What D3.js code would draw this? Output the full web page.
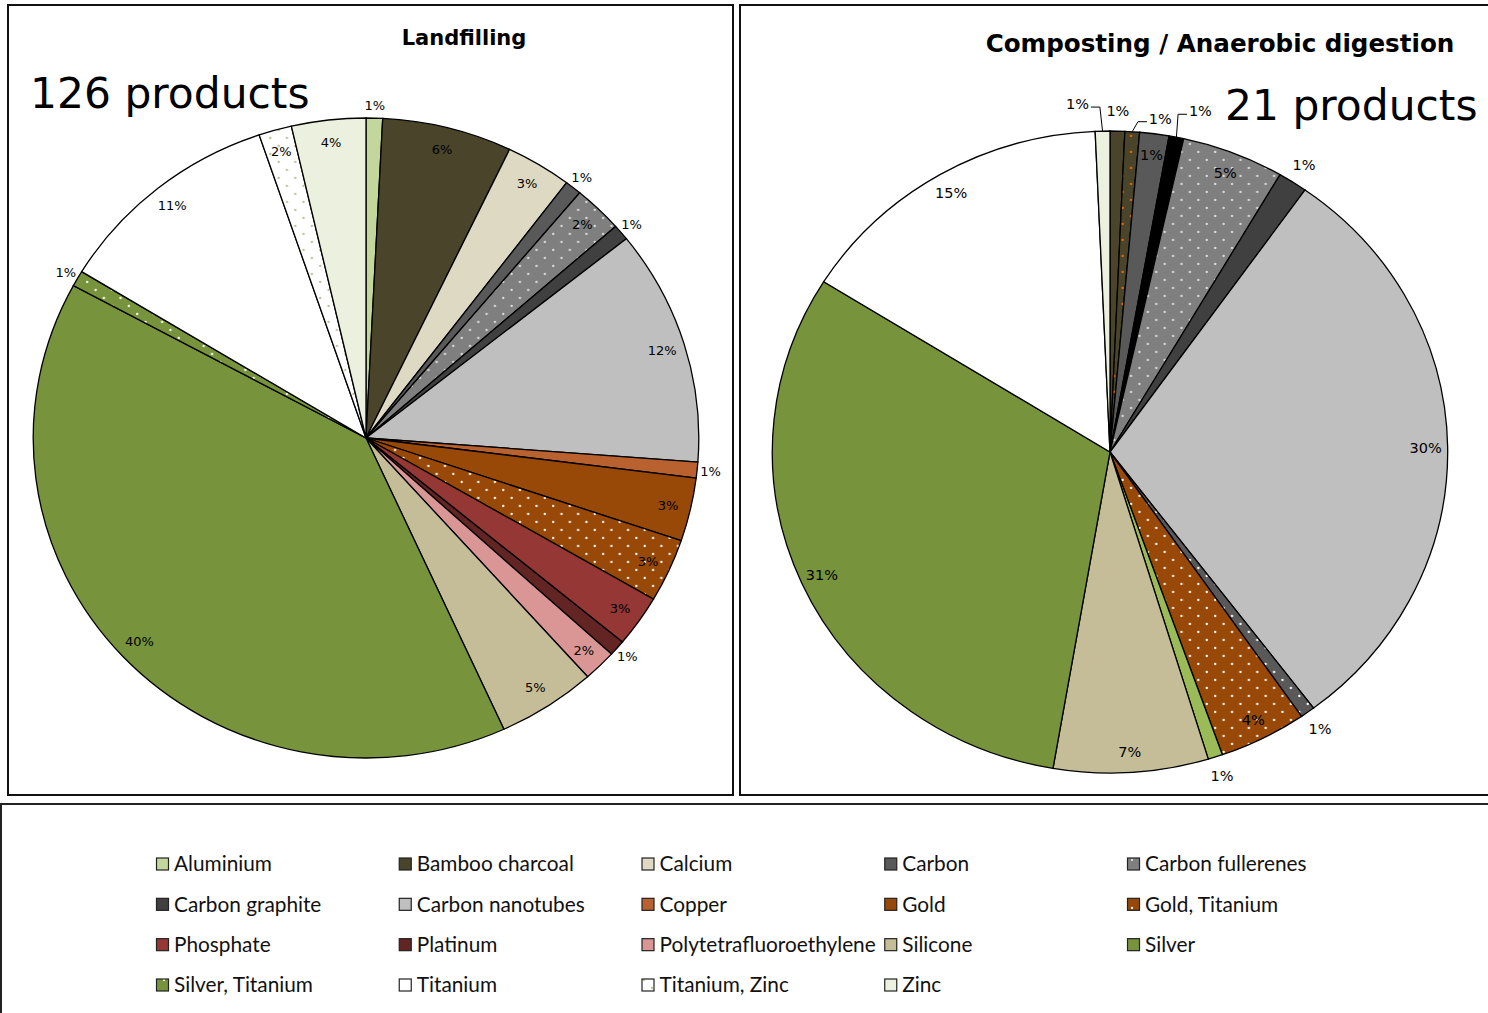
<!DOCTYPE html>
<html><head><meta charset="utf-8">
<script src="https://cdn.jsdelivr.net/npm/d3@7"></script>
<style>
  body { margin: 0; background: #fff; }
  svg { display: block; }
</style>
</head><body>
<svg id="chart" width="1488" height="1013"></svg>
<script>
// Legend entries, in slice order
const legendCategories = ["Aluminium", "Bamboo charcoal", "Calcium", "Carbon", "Carbon fullerenes",
  "Carbon graphite", "Carbon nanotubes", "Copper", "Gold", "Gold, Titanium",
  "Phosphate", "Platinum", "Polytetrafluoroethylene", "Silicone", "Silver",
  "Silver, Titanium", "Titanium", "Titanium, Zinc", "Zinc"];

// Landfilling – share of products per nanomaterial (%)
const landfillCategories = legendCategories;
const landfillShares = [0.8, 6.3, 3.2, 0.8, 2.4, 0.8, 11.9, 0.8, 3.2, 3.2,
  2.6, 0.8, 1.6, 4.8, 39.7, 0.8, 11.1, 1.6, 3.6];

// Composting / anaerobic digestion – share of products per nanomaterial (%)
const compostCategories = ["Bamboo charcoal", "Other A", "Carbon", "Carbon black", "Carbon fullerenes",
  "Carbon graphite", "Carbon nanotubes", "Other B", "Gold, Titanium", "Other C",
  "Silicone", "Silver", "Titanium", "Zinc"];
const compostShares = [0.7, 0.7, 1.4, 0.7, 4.9, 1.4, 29.9, 0.7, 4.2, 0.7, 7.4, 31.2, 15.4, 0.7];

const panelTitles = ["Landfilling", "Composting / Anaerobic digestion"];
const productCounts = ["126 products", "21 products"];

// Fill styles
const baseColor = {
  "Aluminium": "#C3D69B", "Bamboo charcoal": "#4A452A", "Calcium": "#DDD9C3", "Carbon": "#595959",
  "Carbon fullerenes": "#7F7F7F", "Carbon graphite": "#404040", "Carbon nanotubes": "#BFBFBF",
  "Copper": "#B9622F", "Gold": "#984807", "Gold, Titanium": "#984807", "Phosphate": "#953735",
  "Platinum": "#632523", "Polytetrafluoroethylene": "#D99694", "Silicone": "#C4BD97",
  "Silver": "#77933C", "Silver, Titanium": "#77933C", "Titanium": "#FFFFFF",
  "Titanium, Zinc": "#FFFFFF", "Zinc": "#EBF1DE",
  "Other A": "#4A452A", "Carbon black": "#000000", "Other B": "#595959", "Other C": "#9BBB59"
};
const dotColor = {
  "Carbon fullerenes": "#DCDCDC", "Gold, Titanium": "#FFFFFF", "Silver, Titanium": "#FFFFFF",
  "Titanium, Zinc": "#C4BD97", "Other A": "#E46C0A", "Other B": "#FFFFFF"
};

const svg = d3.select("#chart");
const defs = svg.append("defs");
const slug = s => s.replace(/[^A-Za-z]/g, "");

Object.keys(dotColor).forEach(k => {
  const p = defs.append("pattern").attr("id", "pat-" + slug(k))
    .attr("patternUnits", "userSpaceOnUse").attr("width", 16).attr("height", 16);
  p.append("rect").attr("width", 16).attr("height", 16).attr("fill", baseColor[k]);
  p.append("circle").attr("cx", 4).attr("cy", 4).attr("r", 1.15).attr("fill", dotColor[k]);
  p.append("circle").attr("cx", 12).attr("cy", 12).attr("r", 1.15).attr("fill", dotColor[k]);
});
const fillOf = k => dotColor[k] ? `url(#pat-${slug(k)})` : baseColor[k];

// Panel frames
svg.append("rect").attr("x", 8).attr("y", 5).attr("width", 725).attr("height", 790)
  .attr("fill", "none").attr("stroke", "#111").attr("stroke-width", 2);
svg.append("rect").attr("x", 740).attr("y", 5).attr("width", 780).attr("height", 790)
  .attr("fill", "none").attr("stroke", "#111").attr("stroke-width", 2);
svg.append("rect").attr("x", 1).attr("y", 804).attr("width", 1520).attr("height", 240)
  .attr("fill", "none").attr("stroke", "#222").attr("stroke-width", 2);

const labelFont = "'DejaVu Sans', Verdana, sans-serif";

function drawPie(cfg) {
  const data = cfg.categories.map((c, i) => ({ name: c, value: cfg.values[i] }));
  const arcs = d3.pie().sort(null).value(d => d.value)(data);
  const arc = d3.arc().innerRadius(0).outerRadius(cfg.r);

  const g = svg.append("g")
    .attr("transform", `translate(${cfg.cx},${cfg.cy}) scale(${cfg.sx},1)`);
  g.selectAll("path").data(arcs).join("path")
    .attr("d", arc)
    .attr("fill", d => fillOf(d.data.name))
    .attr("stroke", "#000")
    .attr("stroke-width", 1.3)
    .attr("vector-effect", "non-scaling-stroke");

  const pos = (a, rr) => [cfg.cx + cfg.sx * rr * Math.sin(a), cfg.cy - rr * Math.cos(a)];
  const lg = svg.append("g").attr("font-family", labelFont).attr("font-size", cfg.fontSize)
    .attr("fill", "#000");

  arcs.forEach(d => {
    const mid = (d.startAngle + d.endAngle) / 2;
    const label = Math.round(d.data.value) + "%";
    const lead = cfg.leader[d.data.name];
    let x, y;
    if (lead) {
      const [ax, ay] = pos(mid, cfg.r);
      x = ax + lead[0]; y = ay + lead[1];
      const side = Math.sign(ax - x);
      const hw = cfg.fontSize * 0.78;
      const p1 = [x + side * (hw + 2), y + 3];
      const p2 = [p1[0] + side * 9, y + 3];
      lg.append("path").attr("d", d3.line()([p1, p2, [ax, ay]]))
        .attr("fill", "none").attr("stroke", "#000").attr("stroke-width", 1);
    } else {
      [x, y] = pos(mid, cfg.isOutside(d.data) ? cfg.rOut : cfg.rIn);
    }
    lg.append("text").attr("x", x).attr("y", y).attr("dy", "0.36em")
      .attr("text-anchor", "middle").text(label);
  });
}

drawPie({
  categories: landfillCategories, values: landfillShares,
  cx: 366, cy: 438, r: 320, sx: 1.04, rIn: 298, rOut: 333, fontSize: 13,
  isOutside: d => d.value < 1.5, leader: {}
});

drawPie({
  categories: compostCategories, values: compostShares,
  cx: 1110, cy: 452, r: 321, sx: 1.052, rIn: 300, rOut: 341, fontSize: 14.5,
  isOutside: d => ["Bamboo charcoal", "Carbon graphite", "Other B", "Other C"].includes(d.name),
  leader: { "Zinc": [-25, -27], "Other A": [28, -13], "Carbon black": [24, -26] }
});

// Titles and product counts
svg.append("text").attr("x", 464).attr("y", 45).attr("text-anchor", "middle")
  .attr("font-family", labelFont).attr("font-weight", "bold").attr("font-size", 21)
  .text(panelTitles[0]);
svg.append("text").attr("x", 1220).attr("y", 52).attr("text-anchor", "middle")
  .attr("font-family", labelFont).attr("font-weight", "bold").attr("font-size", 24.6)
  .text(panelTitles[1]);
svg.append("text").attr("x", 30).attr("y", 108)
  .attr("font-family", labelFont).attr("font-size", 42.4).text(productCounts[0]);
svg.append("text").attr("x", 1225).attr("y", 120)
  .attr("font-family", labelFont).attr("font-size", 42.4).text(productCounts[1]);

// Legend
const legendX = d3.scalePoint().domain(d3.range(5)).range([156, 1127]);
const legendY = d3.scalePoint().domain(d3.range(4)).range([864, 985]);
const leg = svg.append("g").attr("font-family", "Lato, 'Open Sans', sans-serif").attr("font-size", 20.8);
legendCategories.forEach((c, i) => {
  const x = legendX(i % 5), y = legendY(Math.floor(i / 5));
  leg.append("rect").attr("x", x + 0.5).attr("y", y - 6).attr("width", 12).attr("height", 12)
    .attr("fill", fillOf(c)).attr("stroke", "#222").attr("stroke-width", 1.2);
  leg.append("text").attr("x", x + 18).attr("y", y).attr("dy", "0.35em").attr("fill", "#111").text(c);
});
</script>
</body></html>
